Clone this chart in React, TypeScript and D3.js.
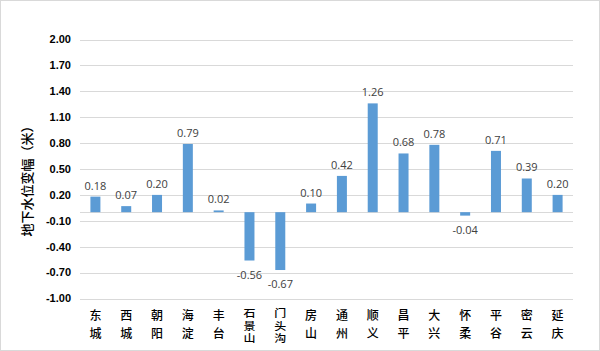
import React from "react";
import * as d3 from "d3";

const categories: string[] = ["东城", "西城", "朝阳", "海淀", "丰台", "石景山", "门头沟", "房山", "通州", "顺义", "昌平", "大兴", "怀柔", "平谷", "密云", "延庆"];
const values: number[] = [0.18, 0.07, 0.2, 0.79, 0.02, -0.56, -0.67, 0.1, 0.42, 1.26, 0.68, 0.78, -0.04, 0.71, 0.39, 0.2];
const yTicks: number[] = [2.0, 1.7, 1.4, 1.1, 0.8, 0.5, 0.2, -0.1, -0.4, -0.7, -1.0];
const yTitle = "地下水位变幅（米）";

const W = 600;
const H = 351;
const left = 80;
const right = 573;
const top = 39.5;
const bottom = 298.5;

export default function App() {
  const x = d3.scaleBand<string>().domain(categories).range([left, right]).paddingInner(0).paddingOuter(0);
  const y = d3.scaleLinear().domain([-1, 2]).range([bottom, top]);
  const barW = 10;
  const y0 = y(0);
  const tickFont = "'Liberation Sans', Arial, sans-serif";
  const cjk = "'Noto Sans CJK SC', sans-serif";

  return (
    <svg width={W} height={H} style={{ position: "absolute", left: 0, top: 0, background: "#fff" }} xmlns="http://www.w3.org/2000/svg">
      <rect x={0.5} y={0.5} width={W - 1} height={H - 1} fill="#fff" stroke="#d9d9d9" />
      {yTicks.map((t) => (
        <g key={t}>
          <line x1={left} x2={right} y1={Math.round(y(t)) + 0.5} y2={Math.round(y(t)) + 0.5} stroke="#d9d9d9" strokeWidth={1} />
          <text x={71} y={y(t)} dy="0.35em" textAnchor="end" fontFamily={tickFont} fontWeight="bold" fontSize={11} fill="#000">
            {t.toFixed(2)}
          </text>
        </g>
      ))}
      <line x1={left} x2={right} y1={Math.round(y0) + 0.5} y2={Math.round(y0) + 0.5} stroke="#d9d9d9" strokeWidth={1} />
      {categories.map((c, i) => {
        const v = values[i];
        const cx = (x(c) as number) + x.bandwidth() / 2;
        const yv = y(v);
        const yTop = Math.min(yv, y0);
        const h = Math.abs(yv - y0);
        const labelY = v >= 0 ? yv - 7 : yv + 18;
        return (
          <g key={c}>
            <rect x={cx - barW / 2} y={yTop} width={barW} height={Math.max(h, 1)} fill="#5b9bd5" />
            <text x={cx} y={labelY} textAnchor="middle" fontFamily="'Open Sans', 'Liberation Sans', sans-serif" fontSize={11} fill="#404040">
              {v.toFixed(2)}
            </text>
          </g>
        );
      })}
      {categories.map((c) => {
        const cx = (x(c) as number) + x.bandwidth() / 2;
        const chars = Array.from(c);
        if (chars.length === 2) {
          const ys = [315, 333];
          return (
            <text key={"l" + c} textAnchor="middle" fontFamily={cjk} fontWeight={500} fontSize={12} fill="#000">
              {chars.map((ch, j) => (
                <tspan key={j} x={cx} y={ys[j]} dy="0.38em">
                  {ch}
                </tspan>
              ))}
            </text>
          );
        }
        const sy = 0.82;
        const step = 12.7;
        const firstCenter = 313.3;
        const topY = firstCenter - 6 * sy;
        return (
          <text
            key={"l" + c}
            transform={`translate(${cx},${topY}) scale(1,${sy})`}
            x={0}
            y={0}
            textAnchor="start"
            fontFamily={cjk}
            fontWeight={500}
            fontSize={12}
            fill="#000"
            style={{ writingMode: "vertical-rl", textOrientation: "upright", letterSpacing: `${step / sy - 12}px` } as React.CSSProperties}
          >
            {c}
          </text>
        );
      })}
      <text transform={`translate(27,${178}) rotate(-90)`} textAnchor="middle" dy="0.38em" fontFamily={cjk} fontWeight={500} fontSize={13} fill="#000">
        {yTitle}
      </text>
    </svg>
  );
}
